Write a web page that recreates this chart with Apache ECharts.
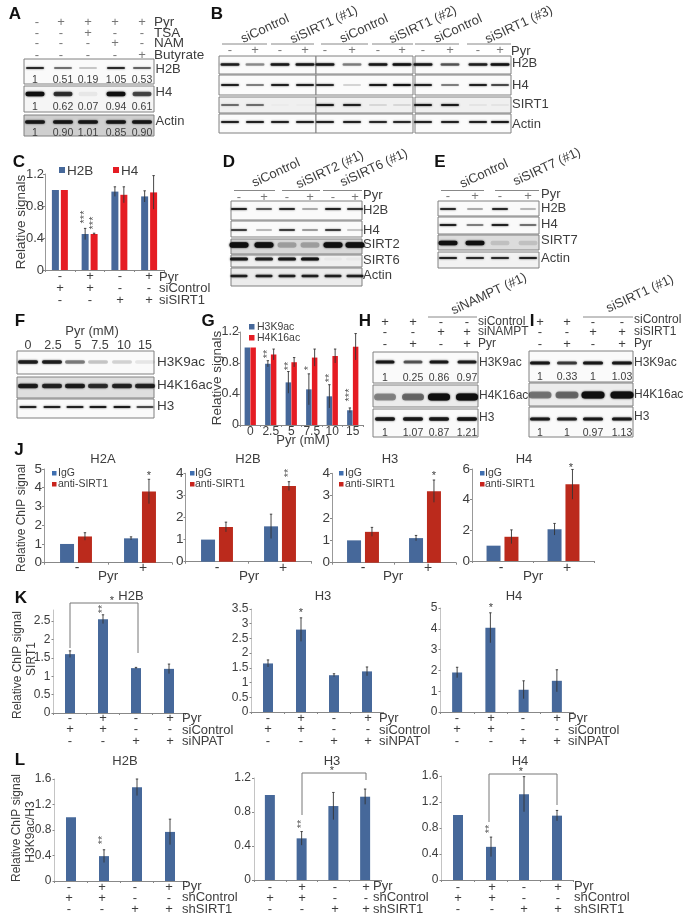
<!DOCTYPE html>
<html><head><meta charset="utf-8">
<style>html,body{margin:0;padding:0;background:#fff}#c{width:685px;height:920px;filter:blur(0.35px)}</style>
<script src="https://cdn.jsdelivr.net/npm/echarts@6/dist/echarts.min.js"></script>
</head><body><div id="c"></div>
<script>
// ---------- values ----------
const groups4 = ['a','b','c','d'];
const doseLabels = ['0','2.5','5','7.5','10','15'];
const pyrGroups = ['-','+'];
const cH2B = [1,0.45,0.98,0.92], cH2BErr = [0,0.07,0.06,0.07];
const cH4 = [1,0.45,0.94,0.97], cH4Err = [0,0.01,0.1,0.21];
const gH3K9 = [1,0.79,0.55,0.46,0.37,0.19], gH3K9Err = [0,0.04,0.14,0.2,0.15,0.03];
const gH4K16 = [1,0.91,0.81,0.87,0.89,1.01], gH4K16Err = [0,0.07,0.06,0.11,0.09,0.17];
const jH2AIgG = [1,1.3], jH2AIgGErr = [0,0.08], jH2AAnti = [1.4,3.8], jH2AAntiErr = [0.2,0.65];
const jH2BIgG = [1,1.6], jH2BIgGErr = [0,0.55], jH2BAnti = [1.57,3.42], jH2BAntiErr = [0.22,0.2];
const jH3IgG = [1,1.1], jH3IgGErr = [0,0.12], jH3Anti = [1.38,3.2], jH3AntiErr = [0.2,0.5];
const jH4IgG = [1,2.07], jH4IgGErr = [0,0.38], jH4Anti = [1.58,5], jH4AntiErr = [0.45,0.97];
const kH2B = [1.6,2.55,1.22,1.2], kH2BErr = [0.09,0.12,0.02,0.13];
const kH3 = [1.65,2.8,1.25,1.38], kH3Err = [0.12,0.4,0.05,0.15];
const kH4 = [1.9,4.05,1.07,1.5], kH4Err = [0.25,0.72,0.43,0.53];
const lH2B = [1,0.39,1.47,0.77], lH2BErr = [0,0.1,0.13,0.2];
const lH3 = [1,0.49,0.87,0.98], lH3Err = [0,0.08,0.16,0.09];
const lH4 = [1,0.51,1.32,0.99], lH4Err = [0,0.15,0.27,0.08];
const pyrSigns = ['-','+','-','+'], ctlSigns = ['+','+','-','-'], kdSigns = ['-','-','+','+'];
// blot band darkness per lane
const aH2B=[.8,.5,.2,.8,.55], aH4=[1,.75,.06,.98,.65], aActin=[.9,.9,.9,.9,.9];
const aNumH2B=['1','0.51','0.19','1.05','0.53'], aNumH4=['1','0.62','0.07','0.94','0.61'], aNumActin=['1','0.90','1.01','0.85','0.90'];
const aPyr=['-','+','+','+','+'], aTSA=['-','-','+','-','-'], aNAM=['-','-','-','+','-'], aBut=['-','-','-','-','+'];
const bH2B=[.85,.4,.9,.9,.9,.45,.9,.95,.9,.6,.85,.95], bH4=[.85,.45,.85,.85,.8,.15,.9,.95,.85,.45,.85,.65];
const bSIRT1=[.5,.5,.01,.01,.9,.85,.1,.1,.9,.9,.05,.05], bActin=[.85,.85,.85,.85,.85,.85,.8,.8,.85,.85,.85,.9];
const dH2B=[.85,.6,.8,.3,.85,.75], dH4=[.7,.25,.7,.35,.7,.2], dSIRT2=[1,1,.25,.25,1,1], dSIRT6=[.9,.85,.9,.95,.03,.03], dActin=[.85,.85,.85,.85,.85,.85];
const eH2B=[.8,.3,.8,.25], eH4=[.85,.45,.85,.5], eSIRT7=[1,1,.12,.12], eActin=[.85,.8,.8,.85];
const fH3K9=[.85,.85,.45,.2,.15,.08], fH4K16=[.85,.8,.85,.75,.8,.8], fH3=[.85,.85,.85,.9,.9,.65];
const hH3K9=[.9,.6,.9,.85], hH4K16=[.4,.5,1,1], hH3=[.9,.9,.9,.95];
const iH3K9=[.9,.7,.9,.9], iH4K16=[.45,.5,1,1], iH3=[.9,.85,.9,.9];
const hNumTop=['1','0.25','0.86','0.97'], hNumBot=['1','1.07','0.87','1.21'];
const iNumTop=['1','0.33','1','1.03'], iNumBot=['1','1','0.97','1.13'];
// ---------- drawing helpers ----------
const FONT='"Liberation Sans",Arial,sans-serif', TXT='#3d3d3d';
const BLUE='#46689a', RED='#e51c23', DRED='#bb2a1c';
const g=[];
function t(s,x,y,o={}){g.push({type:'text',x,y,rotation:(o.rot||0)*Math.PI/180,z:o.z||20,silent:true,
  style:{text:s,x:0,y:0,fill:o.color||TXT,align:o.align||'left',verticalAlign:'middle',
  font:(o.weight||'normal')+' '+(o.size||13)+'px '+FONT}});}
function ln(x1,y1,x2,y2,c='#888',w=1){g.push({type:'line',z:15,silent:true,shape:{x1,y1,x2,y2},style:{stroke:c,lineWidth:w}});}
function sq(x,y,s,c){g.push({type:'rect',z:15,silent:true,shape:{x,y,width:s,height:s},style:{fill:c}});}
function panel(s,x,y){t(s,x,y,{size:17,weight:'bold',color:'#111',align:'center'});}
function frame(x0,x1,y0,y1,bg){g.push({type:'rect',z:5,silent:true,shape:{x:x0,y:y0,width:x1-x0,height:y1-y0},style:{fill:bg||'#fafafa',stroke:'#808080',lineWidth:1}});}
function bands(lanes,vals,y,w,h){vals.forEach((v,i)=>{const a=Math.max(v,0.02),c='rgba(15,15,15,'+a+')';
  g.push({type:'rect',z:8,silent:true,shape:{x:lanes[i]-w/2,y:y-h/2,width:w,height:h,r:h/2},style:{fill:c,shadowBlur:2,shadowColor:c}});});}
function row(xs,vals,y,o={}){vals.forEach((v,i)=>t(v,xs[i],y,Object.assign({align:'center',size:13},o)));}
function vstars(s,x,y,c='#555'){t(s,x,y,{rot:90,align:'center',size:11,color:c});}
function bracket(pts){g.push({type:'polyline',z:15,silent:true,shape:{points:pts},style:{stroke:'#777',lineWidth:1,fill:null}});}
const grids=[],xA=[],yA=[],series=[];
function errSeries(idx,vals,errs,off){series.push({type:'custom',xAxisIndex:idx,yAxisIndex:idx,z:6,silent:true,
  data:vals.map((v,i)=>[i,v,errs[i]]),encode:{x:0,y:1},
  renderItem:(p,api)=>{const i=api.value(0),v=api.value(1),e=api.value(2);if(!e)return;
    const a=api.coord([i,v+e]),b=api.coord([i,v-e]),x=a[0]+off,st={stroke:'#333',lineWidth:0.9};
    return {type:'group',children:[{type:'line',shape:{x1:x,y1:a[1],x2:x,y2:b[1]},style:st},
      {type:'line',shape:{x1:x-1.2,y1:a[1],x2:x+1.2,y2:a[1]},style:st}]};}});}
function chart(o){const idx=grids.length;
  grids.push({left:o.left,width:o.w,top:o.top,height:o.y0-o.top,containLabel:false});
  xA.push({type:'category',gridIndex:idx,data:o.cats,boundaryGap:true,
    axisLine:{show:true,lineStyle:{color:'#888',width:1}},axisTick:{show:true,length:2,lineStyle:{color:'#888'}},
    axisLabel:o.xLabels?{show:true,interval:0,fontFamily:FONT,fontSize:12,color:TXT,margin:1}:{show:false}});
  yA.push({type:'value',gridIndex:idx,min:0,max:o.max,interval:o.step,splitLine:{show:false},
    axisLine:{show:true,lineStyle:{color:o.yc||'#999',width:1}},axisTick:{show:true,length:2,lineStyle:{color:'#888'}},
    axisLabel:{fontFamily:FONT,fontSize:o.fs||13,color:TXT,margin:o.m||3}});
  o.s.forEach((s,k)=>{series.push({type:'bar',xAxisIndex:idx,yAxisIndex:idx,data:s.v,barWidth:o.bw,barGap:o.gap||'0%',
    itemStyle:{color:s.c},silent:true,z:3});
    const n=o.s.length,d=o.bw*(1+parseFloat(o.gap||'0')/100);
    errSeries(idx,s.v,s.e,n===2?(k-0.5)*d:0);});
}
// ---------- panel A ----------
panel('A',15,14);
const aL=[35,63,88,116,142], aS=[37,61,88,115,142];
[[aPyr,22,'Pyr'],[aTSA,33,'TSA'],[aNAM,43,'NAM'],[aBut,55,'Butyrate']].forEach(r=>{row(aS,r[0],r[1],{color:'#777'});t(r[2],154,r[1],{size:13.5});});
frame(24,154,59,84);frame(24,154,86,112,'#f5f5f5');frame(24,154,115,136,'#cfcfcf');
bands(aL,aH2B,68,18,2.2);bands(aL,aH4,94,19,4.5);bands(aL,aActin,122,20,3.5);
row(aL,aNumH2B,80,{size:10.5});row(aL,aNumH4,107,{size:10.5});row(aL,aNumActin,133,{size:10.5});
t('H2B',155.5,69);t('H4',155.5,92);t('Actin',155.5,121);
// ---------- panel B ----------
panel('B',217,14);
const bL=[230,255,280,305,325,352,378,402,423,450,478,500];
[[222,267],[271,314],[321,368],[372,413],[415,459],[467,511]].forEach(p=>ln(p[0],44,p[1],44));
row(bL,['-','+','-','+','-','+','-','+','-','+','-','+'],50,{color:'#777'});
[[56,74],[75,95],[97,113],[114,133]].forEach((r,j)=>{[[219,316],[316,413],[415,511]].forEach(c=>frame(c[0],c[1],r[0],r[1],j==2?'#f0f0f0':'#fbfbfb'));});
bands(bL,bH2B,64.5,19,2.6);bands(bL,bH4,85,18,2.2);bands(bL,bSIRT1,105,18,2.2);bands(bL,bActin,122,18,2);
t('H2B',512,63);t('H4',512,85);t('SIRT1',512,104);t('Actin',512,124);t('Pyr',511,51);
[['siControl',265,29],['siSIRT1 (#1)',324,25],['siControl',364,29],['siSIRT1 (#2)',423,25],['siControl',458,29],['siSIRT1 (#3)',519,25]]
 .forEach(l=>t(l[0],l[1],l[2],{rot:25,align:'center',size:13}));
// ---------- panel C ----------
panel('C',19,162);
chart({left:45,w:119,top:174,y0:270,max:1.2,step:0.4,bw:7,gap:'28%',cats:groups4,m:1,
  s:[{v:cH2B,e:cH2BErr,c:BLUE},{v:cH4,e:cH4Err,c:RED}]});
sq(59,167,6,BLUE);t('H2B',67,171,{size:13.5});sq(113,167,6,RED);t('H4',121,171,{size:13.5});
t('Relative signals',21,222,{rot:90,align:'center',size:13.5});
vstars('***',85,217);vstars('***',94,223);
const cS=[60,90,120,149];
row(cS,pyrSigns,276);row(cS,ctlSigns,288);row(cS,kdSigns,300);
t('Pyr',159,277);t('siControl',159,288);t('siSIRT1',159,300);
// ---------- panel D ----------
panel('D',229,162);
const dL=[239,264,287,310,333,355];
[[234,275],[282,320],[323,362]].forEach(p=>ln(p[0],190.5,p[1],190.5));
row(dL,['-','+','-','+','-','+'],197,{color:'#777'});
frame(231,362,201,220);frame(231,362,221,237);frame(231,362,239,254,'#d8d8d8');frame(231,362,255,267,'#f0f0f0');frame(231,362,268,286,'#ececec');
bands(dL,dH2B,209,16,2.2);bands(dL,dH4,230,16,1.8);bands(dL,dSIRT2,245,19,5.5);bands(dL,dSIRT6,259,18,3);bands(dL,dActin,276,17,2.5);
[['H2B',210],['H4',230],['SIRT2',244],['SIRT6',260],['Actin',275]].forEach(r=>t(r[0],363,r[1]));t('Pyr',363,195);
t('siControl',276,173,{rot:25,align:'center',size:13});t('siSIRT2 (#1)',330,170,{rot:25,align:'center',size:13});t('siSIRT6 (#1)',374,168,{rot:25,align:'center',size:13});
// ---------- panel E ----------
panel('E',440,162);
const eL=[448,475,500,528];
ln(441,190.5,484,190.5);ln(495,190.5,539,190.5);
row(eL,['-','+','-','+'],196,{color:'#777'});
frame(438,539,201,216);frame(438,539,217,234);frame(438,539,235,250,'#dcdcdc');frame(438,539,252,268,'#f2f2f2');
bands(eL,eH2B,209,16,2);bands(eL,eH4,225,17,2.2);bands(eL,eSIRT7,243,19,4.5);bands(eL,eActin,258,18,2);
[['H2B',208],['H4',224],['SIRT7',240],['Actin',258]].forEach(r=>t(r[0],541,r[1]));t('Pyr',541,194);
t('siControl',484,174,{rot:25,align:'center',size:13});t('siSIRT7 (#1)',547,167,{rot:25,align:'center',size:13});
// ---------- panel F ----------
panel('F',20,321);
const fL=[28,52,75,98,122,145];
t('Pyr (mM)',92,331,{align:'center',size:13});
row([28,53,78,100,124,145],doseLabels,346,{size:12.5});
frame(17,154,351,374);frame(17,154,377,398,'#dedede');frame(17,154,399,418);
bands(fL,fH3K9,362,20,3.5);bands(fL,fH4K16,386,20,4.5);bands(fL,fH3,407,17,2.2);
t('H3K9ac',157,362,{size:13.5});t('H4K16ac',157,385,{size:13.5});t('H3',157,406,{size:13.5});
// ---------- panel G ----------
panel('G',208,321);
chart({left:240,w:123,top:332,y0:425,max:1.2,step:0.4,bw:5.5,gap:'5%',cats:doseLabels,xLabels:true,fs:12.5,m:1,
  s:[{v:gH3K9,e:gH3K9Err,c:BLUE},{v:gH4K16,e:gH4K16Err,c:RED}]});
sq(249,324,5.5,BLUE);t('H3K9ac',257,327,{size:10.5});sq(249,335,5.5,RED);t('H4K16ac',257,338,{size:10.5});
t('Relative signals',217,378,{rot:90,align:'center',size:13.5});
t('Pyr (mM)',303,440,{align:'center',size:13});
vstars('**',268,354);vstars('**',289,366);vstars('*',309,368);vstars('**',330,378);vstars('***',350,395);
// ---------- panel H ----------
panel('H',365,321);
const hL=[385,413,439,467], hS=[385,413,441,467];
ln(428,317,477,317);
row(hS,ctlSigns,322);row(hS,kdSigns,332);row(hS,pyrSigns,344);
t('siControl',478,322,{size:12});t('siNAMPT',478,332,{size:12});t('Pyr',478,344,{size:12});
t('siNAMPT (#1)',489,294,{rot:25,align:'center',size:13});
frame(373,478,352,383);frame(373,478,385,407,'#ececec');frame(373,478,409,437);
bands(hL,hH3K9,362,19,3.2);bands(hL,hH4K16,397,22,7);bands(hL,hH3,419,20,3.5);
row(hL,hNumTop,378,{size:10.5});row(hL,hNumBot,433,{size:10.5});
t('H3K9ac',479,363,{size:12});t('H4K16ac',479,396,{size:12});t('H3',479,418,{size:12});
// ---------- panel I ----------
panel('I',532,321);
const iL=[540,567,593,622];
ln(583,317,633,317);
row(iL,ctlSigns,322);row(iL,kdSigns,332);row(iL,pyrSigns,344);
t('siControl',634,320,{size:12});t('siSIRT1',634,332,{size:12});t('Pyr',634,344,{size:12});
t('siSIRT1 (#1)',640,294,{rot:25,align:'center',size:13});
frame(529,633,351,382);frame(529,633,383,406,'#ececec');frame(529,633,407,437);
bands(iL,iH3K9,363,20,3);bands(iL,iH4K16,395,23,7);bands(iL,iH3,419,20,3.2);
row(iL,iNumTop,377,{size:10.5});row(iL,iNumBot,433,{size:10.5});
t('H3K9ac',634,363,{size:12});t('H4K16ac',634,395,{size:12});t('H3',634,417,{size:12});
// ---------- panel J ----------
panel('J',19,450);
const jOpt={bw:14,gap:'28%',cats:pyrGroups,m:2,fs:13.5};
chart(Object.assign({left:44,w:128,top:469,y0:562.7,max:5,step:1,s:[{v:jH2AIgG,e:jH2AIgGErr,c:BLUE},{v:jH2AAnti,e:jH2AAntiErr,c:DRED}]},jOpt));
chart(Object.assign({left:185.5,w:126,top:473.3,y0:561.7,max:4,step:1,s:[{v:jH2BIgG,e:jH2BIgGErr,c:BLUE},{v:jH2BAnti,e:jH2BAntiErr,c:DRED}]},jOpt));
chart(Object.assign({left:332,w:124,top:473.3,y0:562.7,max:4,step:1,s:[{v:jH3IgG,e:jH3IgGErr,c:BLUE},{v:jH3Anti,e:jH3AntiErr,c:DRED}]},jOpt));
chart(Object.assign({left:472,w:122,top:469,y0:561,max:6,step:2,s:[{v:jH4IgG,e:jH4IgGErr,c:BLUE},{v:jH4Anti,e:jH4AntiErr,c:DRED}]},jOpt));
t('Relative ChIP signal',22,518,{rot:90,align:'center',size:12});
[['H2A',103,52,58,108,77,143],['H2B',248,190,195,249,217,283],['H3',390,339,345,393,363,428],['H4',524,480,485,533,501,567]].forEach(p=>{
  t(p[0],p[1],459,{align:'center',size:13});
  sq(p[2],471,4.5,'#3f6fb0');t('IgG',p[3],473,{size:10.5});sq(p[2],482,4.5,'#c8231c');t('anti-SIRT1',p[3],484,{size:10.5});
  t('Pyr',p[4],576,{align:'center',size:13.5});t('-',p[5],568,{align:'center',size:14});t('+',p[6],568,{align:'center',size:14});
});
t('*',149,476,{align:'center',size:11});vstars('**',289,473);t('*',434,476,{align:'center',size:11});t('*',571,468,{align:'center',size:11});
// ---------- panel K ----------
panel('K',21,598);
const sOpt={bw:10,cats:groups4,m:3,fs:12,yc:'#c4c4c4'};
chart(Object.assign({left:53.5,w:132,top:610,y0:713,max:2.8,step:0.5,s:[{v:kH2B,e:kH2BErr,c:BLUE}]},sOpt));
chart(Object.assign({left:251.5,w:132,top:609,y0:712,max:3.5,step:0.5,s:[{v:kH3,e:kH3Err,c:BLUE}]},sOpt));
chart(Object.assign({left:440.5,w:133,top:608,y0:712,max:5,step:1,s:[{v:kH4,e:kH4Err,c:BLUE}]},sOpt));
t('H2B',131,596,{align:'center',size:13});t('H3',323,596,{align:'center',size:13});t('H4',514,596,{align:'center',size:13});
t('Relative ChIP signal',18,665,{rot:90,align:'center',size:12});t('SIRT1',32,659,{rot:90,align:'center',size:12});
bracket([[70,648],[70,603],[138,603],[138,653]]);t('*',112,601,{align:'center',size:11});
vstars('**',103,609);t('*',301,613,{align:'center',size:11});t('*',491,608,{align:'center',size:11});
[[[70,103,136,170],182,'siNPAT'],[[268,301,334,368],379,'siNPAT'],[[457,491,523,557],568,'siNPAT']].forEach(p=>{
  row(p[0],pyrSigns,718);row(p[0],ctlSigns,729);row(p[0],kdSigns,741);
  t('Pyr',p[1],718);t('siControl',p[1],730);t(p[2],p[1],741);});
// ---------- panel L ----------
panel('L',20,760);
chart(Object.assign({left:54.5,w:132,top:779,y0:881,max:1.6,step:0.4,s:[{v:lH2B,e:lH2BErr,c:BLUE}]},sOpt));
chart(Object.assign({left:254,w:127,top:778,y0:880,max:1.2,step:0.4,s:[{v:lH3,e:lH3Err,c:BLUE}]},sOpt));
chart(Object.assign({left:441.5,w:132,top:776,y0:880,max:1.6,step:0.4,s:[{v:lH4,e:lH4Err,c:BLUE}]},sOpt));
t('H2B',125,761,{align:'center',size:13});t('H3',332,761,{align:'center',size:13});t('H4',520,761,{align:'center',size:13});
t('Relative ChIP signal',17,828,{rot:90,align:'center',size:12});t('H3K9ac/H3',31,832,{rot:90,align:'center',size:12});
bracket([[302,815],[302,773],[366,773],[366,780]]);t('*',332,771,{align:'center',size:11});
bracket([[489,822],[489,774],[557,774],[557,805]]);t('*',521,772,{align:'center',size:11});
vstars('**',103,840);vstars('**',302,824);vstars('**',490,829);
[[[69,102,135,169],182],[[270,302,335,366],373],[[458,492,524,558],574]].forEach(p=>{
  row(p[0],pyrSigns,887);row(p[0],ctlSigns,898);row(p[0],kdSigns,909);
  t('Pyr',p[1],886);t('shControl',p[1],897);t('shSIRT1',p[1],909);});
// ---------- render ----------
const ch=echarts.init(document.getElementById('c'),null,{renderer:'canvas',width:685,height:920});
ch.setOption({animation:false,backgroundColor:'#fff',grid:grids,xAxis:xA,yAxis:yA,series,graphic:{elements:g}});
</script></body></html>
